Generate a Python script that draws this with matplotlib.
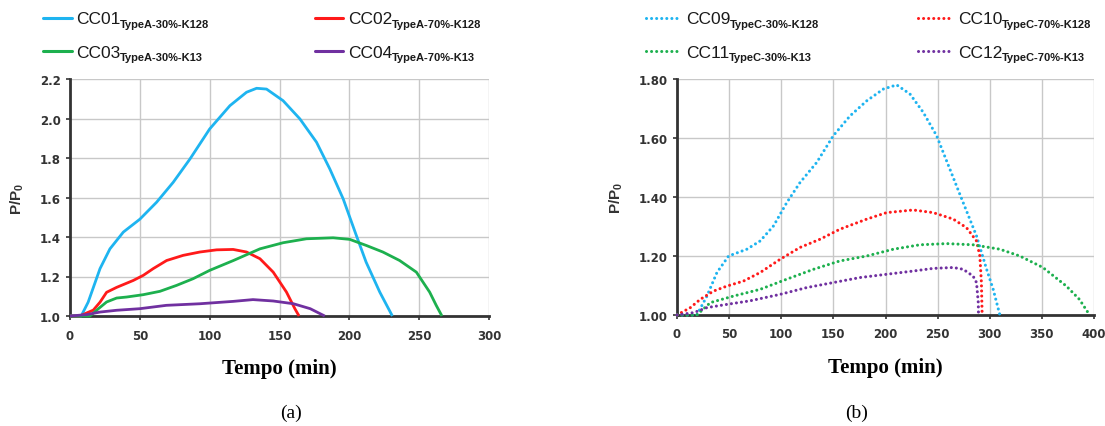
import matplotlib
matplotlib.use("Agg")
import matplotlib.pyplot as plt
from matplotlib.lines import Line2D

plt.rcParams['font.family'] = ['Liberation Sans', 'DejaVu Sans']
plt.rcParams['mathtext.fontset'] = 'custom'
plt.rcParams['mathtext.rm'] = 'Liberation Sans'
plt.rcParams['mathtext.bf'] = 'Liberation Sans:bold'

# ---------------- data (a) ----------------
cc01_x = [0, 8, 13, 21.5, 28.6, 38.2, 50, 62, 73.9, 85.9, 100, 114.5, 126.4, 133.6, 140.7, 152.6, 164.6, 176.5, 186, 195.6, 205, 212, 221.8, 230.8]
cc01_y = [1.0, 1.0, 1.07, 1.24, 1.34, 1.425, 1.49, 1.576, 1.677, 1.795, 1.947, 2.065, 2.133, 2.153, 2.149, 2.09, 1.998, 1.88, 1.745, 1.593, 1.408, 1.273, 1.121, 1.0]

cc02_x = [0, 7, 16.7, 21.5, 26.2, 33.4, 45.3, 52.5, 59.6, 69.2, 81, 93, 105, 116.8, 126.4, 136, 145.5, 155, 161, 164]
cc02_y = [1.0, 1.0, 1.03, 1.07, 1.12, 1.145, 1.18, 1.206, 1.24, 1.281, 1.307, 1.324, 1.335, 1.337, 1.324, 1.29, 1.222, 1.121, 1.037, 1.0]

cc03_x = [0, 14.3, 19, 26.2, 33.4, 40.5, 52.5, 64.4, 76.3, 88.2, 100, 117, 136, 152.6, 169.3, 188.4, 200.3, 212.2, 224, 236, 248, 257.5, 262.2, 266.3]
cc03_y = [1.0, 1.0, 1.029, 1.071, 1.091, 1.096, 1.108, 1.125, 1.155, 1.189, 1.231, 1.281, 1.34, 1.371, 1.391, 1.396, 1.388, 1.357, 1.324, 1.281, 1.222, 1.121, 1.054, 1.0]

cc04_x = [0, 12, 21.5, 33.4, 50, 69, 93, 116.8, 131, 145.5, 160, 172, 179, 182.4]
cc04_y = [1.0, 1.007, 1.02, 1.029, 1.037, 1.054, 1.062, 1.074, 1.083, 1.076, 1.062, 1.037, 1.012, 1.0]

# ---------------- data (b) ----------------
cc09_x = [0, 19, 28.7, 38.3, 49.5, 67, 79.8, 92.6, 105.3, 118, 134, 150, 166, 182, 198, 210.7, 223.5, 236.2, 249, 261.8, 274.5, 287.3, 297, 303.3, 309.7]
cc09_y = [1.0, 1.0, 1.064, 1.144, 1.2, 1.223, 1.251, 1.302, 1.381, 1.449, 1.517, 1.608, 1.675, 1.726, 1.766, 1.78, 1.749, 1.687, 1.608, 1.494, 1.381, 1.268, 1.155, 1.087, 1.0]

cc10_x = [0, 12.8, 22.3, 35, 47.9, 63.8, 79.8, 99, 118, 137.3, 156.4, 182, 201, 226.6, 245.8, 265, 277.7, 287.3, 290.5, 292, 292.7]
cc10_y = [1.0, 1.025, 1.053, 1.081, 1.098, 1.115, 1.144, 1.189, 1.229, 1.257, 1.291, 1.325, 1.347, 1.356, 1.347, 1.325, 1.296, 1.251, 1.2, 1.11, 1.0]

cc11_x = [0, 19, 32, 54, 79.8, 105, 131, 156, 182, 207.5, 233, 258.6, 284, 309.7, 328.8, 351, 373.5, 386, 395.8]
cc11_y = [1.0, 1.0, 1.042, 1.064, 1.087, 1.121, 1.155, 1.183, 1.2, 1.223, 1.238, 1.242, 1.238, 1.223, 1.2, 1.161, 1.098, 1.053, 1.0]

cc12_x = [0, 16, 28.7, 47.9, 70, 99, 124.5, 150, 175.6, 201, 226.6, 245.8, 265, 274.5, 284, 287.3, 289, 289.2]
cc12_y = [1.0, 1.008, 1.025, 1.036, 1.048, 1.07, 1.093, 1.11, 1.127, 1.138, 1.149, 1.158, 1.161, 1.155, 1.132, 1.11, 1.042, 1.0]

names_a = ['CC01', 'CC02', 'CC03', 'CC04']
subs_a = ['TypeA-30%-K128', 'TypeA-70%-K128', 'TypeA-30%-K13', 'TypeA-70%-K13']
names_b = ['CC09', 'CC10', 'CC11', 'CC12']
subs_b = ['TypeC-30%-K128', 'TypeC-70%-K128', 'TypeC-30%-K13', 'TypeC-70%-K13']

xticks_a = [0, 50, 100, 150, 200, 250, 300]
yticks_a = [1.0, 1.2, 1.4, 1.6, 1.8, 2.0, 2.2]
xticks_b = [0, 50, 100, 150, 200, 250, 300, 350, 400]
yticks_b = [1.00, 1.20, 1.40, 1.60, 1.80]

colors = ['#1EB4F0', '#FF1A1A', '#1DB04E', '#7030A0']
DOT = (0, (0.01, 1.65))
DOT_LW = 2.2

W, H = 1105, 427
fig = plt.figure(figsize=(W / 100, H / 100), dpi=100)

def px_axes(l, t, r, b):
    return fig.add_axes([l / W, 1 - b / H, (r - l) / W, (b - t) / H])

axA = px_axes(70, 80, 489, 317)
axB = px_axes(677, 80, 1094, 316)

def style(ax, xt, yt, fmt):
    ax.set_xticks(xt)
    ax.set_yticks(yt)
    ax.set_xlim(xt[0], xt[-1])
    ax.set_ylim(yt[0], yt[-1])
    ax.set_xticklabels([str(v) for v in xt])
    ax.set_yticklabels([fmt.format(v) for v in yt])
    ax.grid(True, color='#C8C8C8', lw=1.0)
    ax.set_axisbelow(True)
    for s in ['top', 'right']:
        ax.spines[s].set_visible(False)
    for s in ['left', 'bottom']:
        ax.spines[s].set_color('#333333')
        ax.spines[s].set_linewidth(2.0)
    ax.tick_params(axis='both', direction='out', length=3, width=1.2, color='#333333',
                   labelsize=8.5, labelcolor='#333333')
    ax.tick_params(axis='x', pad=6)
    for lab in ax.get_xticklabels() + ax.get_yticklabels():
        lab.set_fontweight('bold')
        lab.set_fontfamily('DejaVu Sans')
    ax.set_xlabel('Tempo (min)', fontfamily='Liberation Serif', fontweight='bold',
                  fontsize=15, labelpad=12)
    ax.set_ylabel(r'$\mathbf{P/P_0}$', fontsize=11, color='#333333', labelpad=10)

style(axA, xticks_a, yticks_a, '{:.1f}')
style(axB, xticks_b, yticks_b, '{:.2f}')

series_a = [(cc01_x, cc01_y), (cc02_x, cc02_y), (cc03_x, cc03_y), (cc04_x, cc04_y)]
series_b = [(cc09_x, cc09_y), (cc10_x, cc10_y), (cc11_x, cc11_y), (cc12_x, cc12_y)]

for (x, y), c in zip(series_a, colors):
    axA.plot(x, y, color=c, lw=2.0, solid_capstyle='butt', clip_on=False, zorder=3)
for (x, y), c in zip(series_b, colors):
    axB.plot(x, y, color=c, lw=DOT_LW, linestyle=DOT, dash_capstyle='round',
             clip_on=False, zorder=3)

# ---- legends drawn in figure pixel coordinates ----
fig.canvas.draw()
renderer = fig.canvas.get_renderer()

def legend_entry(x0, x1, y, xt, name, sub, color, dotted):
    if dotted:
        ln = Line2D([x0 / W, x1 / W], [1 - y / H, 1 - y / H], transform=fig.transFigure,
                    color=color, lw=DOT_LW, linestyle=DOT, dash_capstyle='round')
    else:
        ln = Line2D([x0 / W, x1 / W], [1 - y / H, 1 - y / H], transform=fig.transFigure,
                    color=color, lw=2.2, solid_capstyle='round')
    fig.add_artist(ln)
    t = fig.text(xt / W, 1 - (y + 1) / H, name, fontsize=12.5, va='center', ha='left',
                 color='#1a1a1a')
    bb = t.get_window_extent(renderer)
    fig.text(bb.x1 / W, 1 - (y + 6) / H, sub, fontsize=8, fontweight='bold', va='center',
             ha='left', color='#1a1a1a')

rows = [19, 52]
colsA = [(43, 72, 76), (315, 343, 348)]
colsB = [(646, 680, 686), (918, 952, 958)]
for i in range(4):
    r, c = divmod(i, 2)
    x0, x1, xt = colsA[c]
    legend_entry(x0, x1, rows[r], xt, names_a[i], subs_a[i], colors[i], False)
    x0, x1, xt = colsB[c]
    legend_entry(x0, x1, rows[r], xt, names_b[i], subs_b[i], colors[i], True)

fig.text(291 / W, 1 - 413 / H, '(a)', fontfamily='Liberation Serif', fontsize=14,
         ha='center', va='center')
fig.text(857 / W, 1 - 413 / H, '(b)', fontfamily='Liberation Serif', fontsize=14,
         ha='center', va='center')

fig.savefig('out.png', dpi=100)
